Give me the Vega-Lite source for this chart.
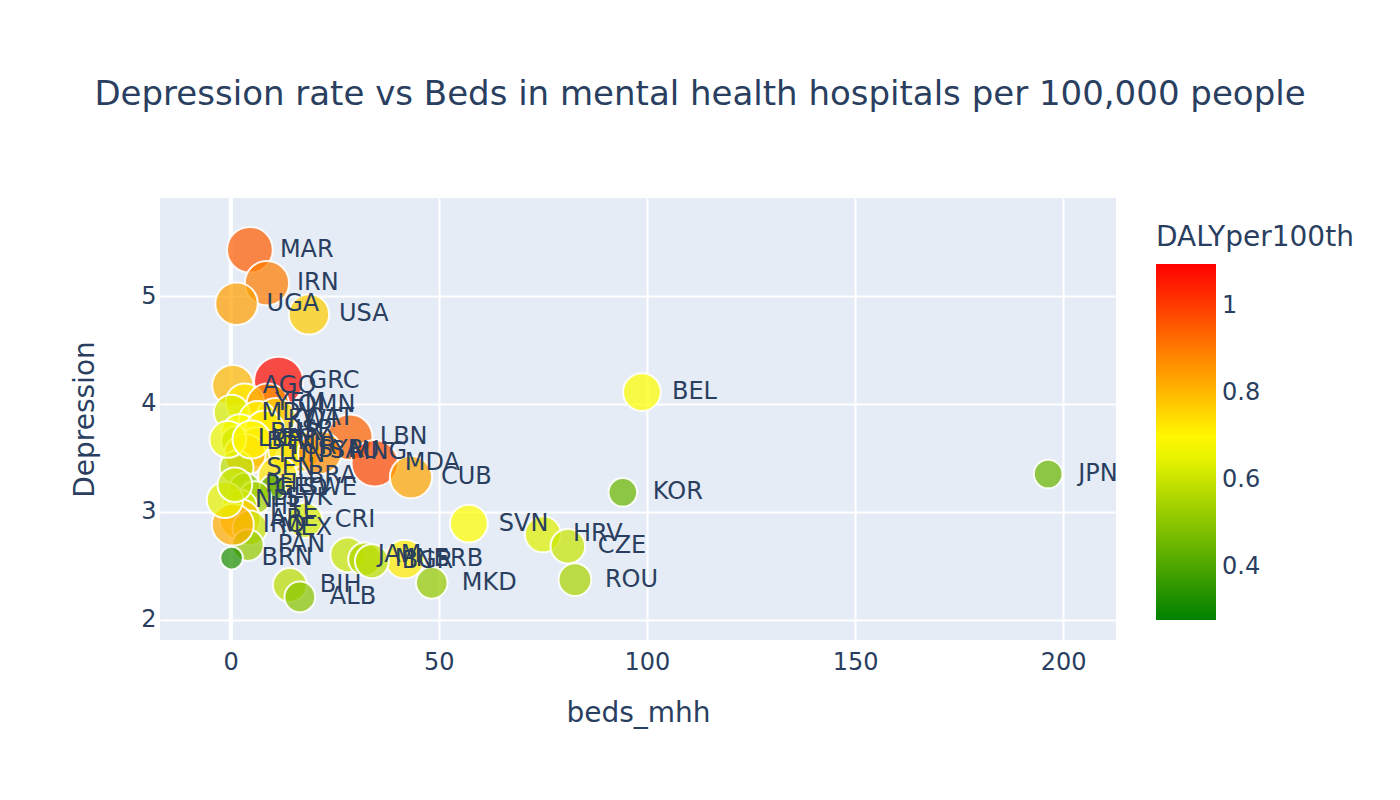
{
  "$schema": "https://vega.github.io/schema/vega-lite/v6.json",
  "width": 956,
  "height": 442,
  "autosize": {"type": "none"},
  "padding": {"left": 160, "top": 198, "right": 284, "bottom": 160},
  "background": "white",
  "title": {
    "text": "Depression rate vs Beds in mental health hospitals per 100,000 people",
    "font": "DejaVu Sans",
    "fontSize": 34,
    "fontWeight": "normal",
    "color": "#2a3f5f",
    "anchor": "middle",
    "frame": "group",
    "dx": 62,
    "baseline": "alphabetic",
    "offset": 57
  },
  "config": {
    "view": {"fill": "#E5ECF6", "stroke": null},
    "font": "DejaVu Sans",
    "axis": {
      "grid": true,
      "gridColor": "white",
      "gridWidth": 2,
      "domain": false,
      "ticks": false,
      "labelFontSize": 24,
      "labelColor": "#2a3f5f",
      "labelFont": "DejaVu Sans",
      "titleFont": "DejaVu Sans",
      "titleFontSize": 28,
      "titleColor": "#2a3f5f",
      "titleFontWeight": "normal"
    }
  },
  "data": {
    "values": [
      {"code": "MAR", "beds_mhh": 4.6, "Depression": 5.43, "DALYper100th": 0.95},
      {"code": "IRN", "beds_mhh": 8.7, "Depression": 5.12, "DALYper100th": 0.9},
      {"code": "UGA", "beds_mhh": 1.4, "Depression": 4.93, "DALYper100th": 0.84},
      {"code": "USA", "beds_mhh": 18.8, "Depression": 4.83, "DALYper100th": 0.77},
      {"code": "AGO", "beds_mhh": 0.5, "Depression": 4.17, "DALYper100th": 0.8},
      {"code": "GRC", "beds_mhh": 11.5, "Depression": 4.21, "DALYper100th": 1.08},
      {"code": "YEM", "beds_mhh": 3.4, "Depression": 4.01, "DALYper100th": 0.72},
      {"code": "OMN", "beds_mhh": 8.9, "Depression": 3.99, "DALYper100th": 0.85},
      {"code": "MDV", "beds_mhh": 0.2, "Depression": 3.92, "DALYper100th": 0.63},
      {"code": "QAT", "beds_mhh": 10.8, "Depression": 3.87, "DALYper100th": 0.75},
      {"code": "KWT", "beds_mhh": 6.5, "Depression": 3.85, "DALYper100th": 0.7},
      {"code": "BHR", "beds_mhh": 2.2, "Depression": 3.73, "DALYper100th": 0.68},
      {"code": "BTN", "beds_mhh": 1.4, "Depression": 3.65, "DALYper100th": 0.5},
      {"code": "ISR", "beds_mhh": 8.2, "Depression": 3.76, "DALYper100th": 0.72},
      {"code": "LBN", "beds_mhh": 28.6, "Depression": 3.69, "DALYper100th": 0.94},
      {"code": "TUR", "beds_mhh": 6.5, "Depression": 3.6, "DALYper100th": 0.75},
      {"code": "SAU", "beds_mhh": 16.6, "Depression": 3.56, "DALYper100th": 0.78},
      {"code": "SYR", "beds_mhh": 13.7, "Depression": 3.57, "DALYper100th": 0.72},
      {"code": "MNG", "beds_mhh": 21.4, "Depression": 3.55, "DALYper100th": 0.87},
      {"code": "TUN", "beds_mhh": 3.4, "Depression": 3.53, "DALYper100th": 0.8},
      {"code": "MDA", "beds_mhh": 34.6, "Depression": 3.45, "DALYper100th": 0.98},
      {"code": "SEN", "beds_mhh": 1.4, "Depression": 3.41, "DALYper100th": 0.58},
      {"code": "CUB", "beds_mhh": 43.3, "Depression": 3.32, "DALYper100th": 0.83},
      {"code": "BRA", "beds_mhh": 11.3, "Depression": 3.33, "DALYper100th": 0.73},
      {"code": "GEO", "beds_mhh": 3.4, "Depression": 3.22, "DALYper100th": 0.5},
      {"code": "SWE", "beds_mhh": 10.1, "Depression": 3.22, "DALYper100th": 0.4},
      {"code": "SVK", "beds_mhh": 5.8, "Depression": 3.13, "DALYper100th": 0.55},
      {"code": "HTI", "beds_mhh": 2.2, "Depression": 3.04, "DALYper100th": 0.62},
      {"code": "ARE", "beds_mhh": 2.2, "Depression": 2.93, "DALYper100th": 0.78},
      {"code": "MEX", "beds_mhh": 4.6, "Depression": 2.85, "DALYper100th": 0.6},
      {"code": "PAN", "beds_mhh": 4.1, "Depression": 2.69, "DALYper100th": 0.52},
      {"code": "BRN", "beds_mhh": 0.2, "Depression": 2.57, "DALYper100th": 0.33},
      {"code": "CRI", "beds_mhh": 17.8, "Depression": 2.92, "DALYper100th": 0.62},
      {"code": "SVN", "beds_mhh": 57.2, "Depression": 2.89, "DALYper100th": 0.69},
      {"code": "HRV", "beds_mhh": 75.0, "Depression": 2.79, "DALYper100th": 0.64},
      {"code": "CZE", "beds_mhh": 81.0, "Depression": 2.68, "DALYper100th": 0.6},
      {"code": "ROU", "beds_mhh": 82.7, "Depression": 2.37, "DALYper100th": 0.55},
      {"code": "MKD", "beds_mhh": 48.3, "Depression": 2.34, "DALYper100th": 0.52},
      {"code": "JAM", "beds_mhh": 28.1, "Depression": 2.6, "DALYper100th": 0.6},
      {"code": "MNE", "beds_mhh": 32.2, "Depression": 2.56, "DALYper100th": 0.56},
      {"code": "SRB", "beds_mhh": 41.8, "Depression": 2.56, "DALYper100th": 0.72},
      {"code": "BGR", "beds_mhh": 33.9, "Depression": 2.54, "DALYper100th": 0.58},
      {"code": "BIH", "beds_mhh": 14.2, "Depression": 2.32, "DALYper100th": 0.58},
      {"code": "ALB", "beds_mhh": 16.6, "Depression": 2.21, "DALYper100th": 0.5},
      {"code": "KOR", "beds_mhh": 94.2, "Depression": 3.18, "DALYper100th": 0.45},
      {"code": "BEL", "beds_mhh": 98.8, "Depression": 4.11, "DALYper100th": 0.69},
      {"code": "JPN", "beds_mhh": 196.4, "Depression": 3.35, "DALYper100th": 0.45},
      {"code": "LKA", "beds_mhh": -0.7, "Depression": 3.67, "DALYper100th": 0.66},
      {"code": "IRQ", "beds_mhh": 0.5, "Depression": 2.88, "DALYper100th": 0.82},
      {"code": "NPL", "beds_mhh": -1.4, "Depression": 3.11, "DALYper100th": 0.65},
      {"code": "EGY", "beds_mhh": 5.0, "Depression": 3.67, "DALYper100th": 0.7},
      {"code": "PHL", "beds_mhh": 1.0, "Depression": 3.25, "DALYper100th": 0.6}
    ]
  },
  "layer": [
    {
      "data": {"values": [{}]},
      "mark": {"type": "rule", "color": "white", "strokeWidth": 4},
      "encoding": {"x": {"datum": 0, "type": "quantitative"}}
    },
    {
      "mark": {"type": "circle", "fillOpacity": 0.72, "stroke": "white", "strokeWidth": 2, "strokeOpacity": 0.9},
      "encoding": {
        "x": {
          "field": "beds_mhh",
          "type": "quantitative",
          "scale": {"domain": [-17, 212.7], "nice": false, "zero": false},
          "axis": {"title": "beds_mhh", "values": [0, 50, 100, 150, 200], "labelPadding": 10, "titleY": 73, "titleBaseline": "middle"}
        },
        "y": {
          "field": "Depression",
          "type": "quantitative",
          "scale": {"domain": [1.81, 5.91], "nice": false, "zero": false},
          "axis": {"title": "Depression", "values": [2, 3, 4, 5], "format": "d", "labelPadding": 4, "titleX": -75, "titleY": 221, "titleBaseline": "middle", "titleAngle": -90, "titleAlign": "center"}
        },
        "color": {
          "field": "DALYper100th",
          "type": "quantitative",
          "scale": {"domain": [0.278, 0.6875, 1.097], "range": ["#008000", "#ffff00", "#ff0000"], "interpolate": "rgb"},
          "legend": {
            "orient": "none",
            "legendX": 996,
            "legendY": 26,
            "direction": "vertical",
            "title": "DALYper100th",
            "titleFont": "DejaVu Sans",
            "titleFontSize": 28,
            "titleFontWeight": "normal",
            "titleColor": "#2a3f5f",
            "titleLimit": 400,
            "titlePadding": 12,
            "gradientLength": 356,
            "gradientThickness": 60,
            "gradientStrokeWidth": 0,
            "labelFont": "DejaVu Sans",
            "labelFontSize": 24,
            "labelColor": "#2a3f5f",
            "labelOffset": 6,
            "values": [0.4, 0.6, 0.8, 1],
            "format": "~g"
          }
        },
        "size": {
          "field": "DALYper100th",
          "type": "quantitative",
          "scale": {"domain": [0.278, 1.097], "range": [380, 2460], "zero": false},
          "legend": null
        }
      }
    },
    {
      "mark": {"type": "text", "align": "left", "baseline": "middle", "dx": 30, "fontSize": 24, "font": "DejaVu Sans", "color": "#2a3f5f"},
      "encoding": {
        "x": {"field": "beds_mhh", "type": "quantitative"},
        "y": {"field": "Depression", "type": "quantitative"},
        "text": {"field": "code"}
      }
    }
  ]
}
